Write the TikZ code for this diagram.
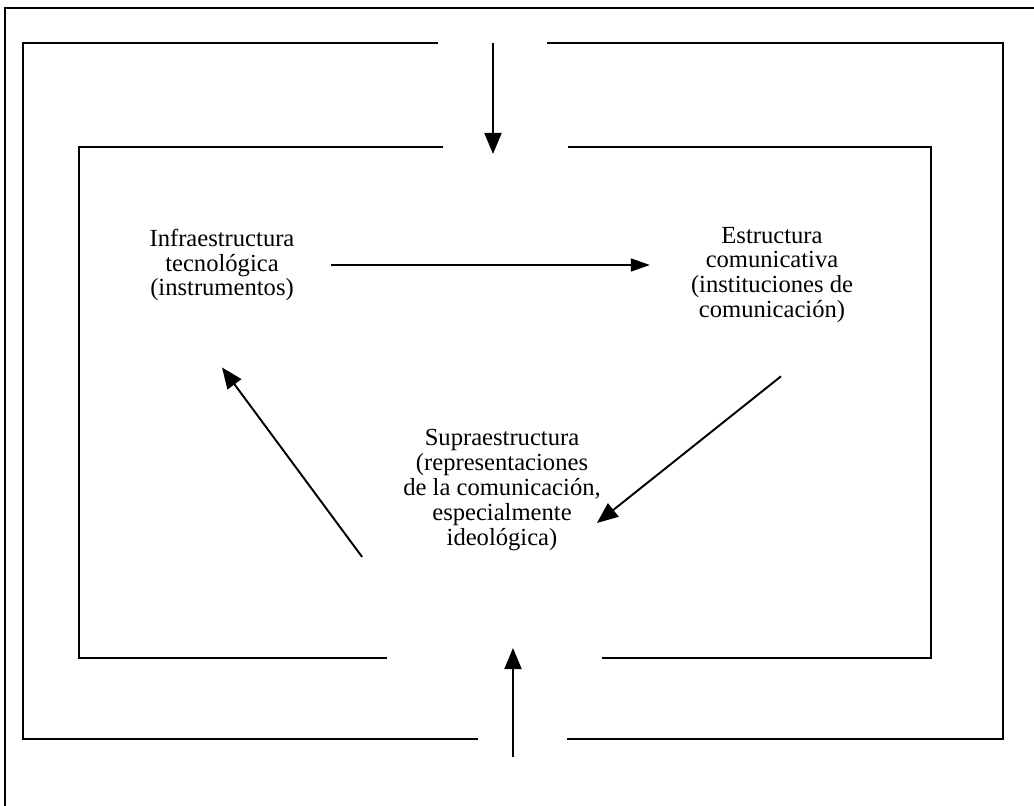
\documentclass[tikz,border=0pt]{standalone}
\usepackage{fontspec}
\setmainfont{Liberation Serif}
\usetikzlibrary{arrows.meta, positioning}

\begin{document}
\begin{tikzpicture}[
  txt/.style={align=center, font=\fontsize{14}{14.2}\selectfont},
  frame/.style={line width=1.4pt},
  arrow/.style={-{Triangle[length=0.42cm,width=0.34cm]}, line width=1.1pt}
]
\useasboundingbox (0,0) rectangle (20.68,-16.12);

\draw[line width=0.8pt] (20.68,-0.16) -- (0.1,-0.16) -- (0.1,-16.12);
\draw[frame] (8.76,-0.86) -- (0.46,-0.86) -- (0.46,-14.78) -- (9.56,-14.78);
\draw[frame] (10.94,-0.86) -- (20.06,-0.86) -- (20.06,-14.78) -- (11.34,-14.78);
\draw[frame] (8.86,-2.94) -- (1.58,-2.94) -- (1.58,-13.16) -- (7.74,-13.16);
\draw[frame] (11.36,-2.94) -- (18.62,-2.94) -- (18.62,-13.16) -- (12.04,-13.16);

\node[txt] (infra) at (4.44,-5.3) {Infraestructura\\tecnológica\\(instrumentos)};
\node[txt] (estr) at (15.44,-5.5) {Estructura\\comunicativa\\(instituciones de\\comunicación)};
\node[txt] (supra) at (10.04,-9.8) {Supraestructura\\(representaciones\\de la comunicación,\\especialmente\\ideológica)};

\coordinate (topin) at (9.86,-0.86);
\coordinate (topend) at (9.86,-3.08);
\coordinate (botin) at (10.26,-15.14);
\coordinate (botend) at (10.26,-12.96);

\draw[arrow] (topin) -- (topend);
\draw[arrow] (botin) -- (botend);
\draw[-{Triangle[length=0.38cm,width=0.26cm]}, line width=0.9pt] ([xshift=0.6cm]infra.east) -- ([xshift=-0.7cm]infra.east -| estr.west);
\draw[arrow] ([xshift=-0.7cm]supra.south west) -- ([yshift=-1.2cm]infra.south);
\draw[arrow] ([shift={(0.18,-0.94)}]estr.south) -- ([shift={(-0.2,-0.66)}]supra.east);
\end{tikzpicture}
\end{document}
